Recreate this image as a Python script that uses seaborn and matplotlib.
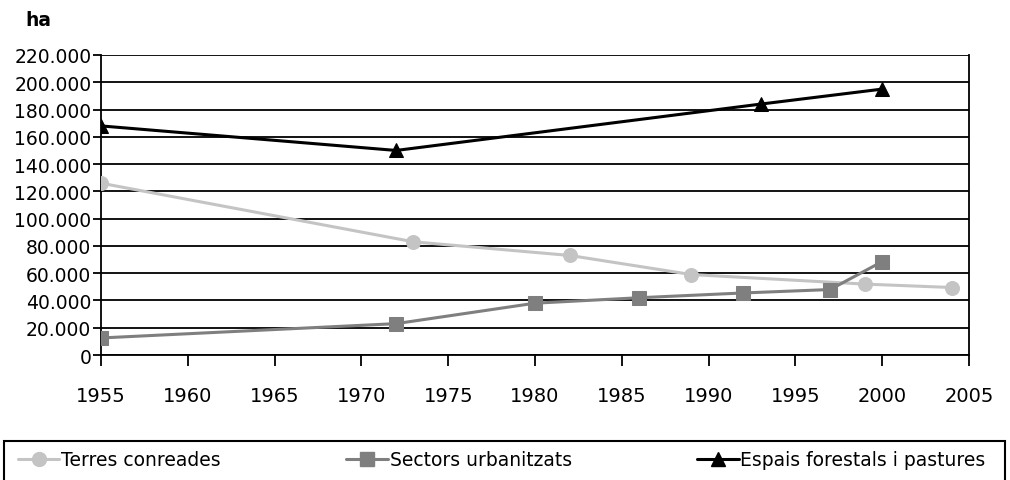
import matplotlib
matplotlib.use("Agg")
import matplotlib.pyplot as plt
import seaborn as sns
import pandas as pd
from matplotlib.ticker import FuncFormatter
from matplotlib.lines import Line2D
from matplotlib.patches import Rectangle

sns.set_theme(style="white")
plt.rcParams['font.family'] = ['DejaVu Sans']
plt.rcParams['text.color'] = 'black'

terres_years = [1955, 1973, 1982, 1989, 1999, 2004]
terres_vals = [126000, 83000, 73000, 59000, 52000, 49500]
sectors_years = [1955, 1972, 1980, 1986, 1992, 1997, 2000]
sectors_vals = [12500, 23000, 38000, 42000, 45500, 48000, 68500]
espais_years = [1955, 1972, 1993, 2000]
espais_vals = [168000, 150000, 184000, 195000]
x_ticks = list(range(1955, 2006, 5))
y_ticks = list(range(0, 220001, 20000))
labels = ["Terres conreades", "Sectors urbanitzats", "Espais forestals i pastures"]
colors = ["#c4c4c4", "#7f7f7f", "#000000"]
markers = ["o", "s", "^"]

fig = plt.figure(figsize=(10.10, 4.81), dpi=100)
ax = fig.add_axes([0.1, 1 - 356/481, 0.8594, 300/481])

series = [(terres_years, terres_vals), (sectors_years, sectors_vals), (espais_years, espais_vals)]
for (xs, ys), lab, c, m in zip(series, labels, colors, markers):
    df = pd.DataFrame({"year": xs, "value": ys})
    sns.lineplot(data=df, x="year", y="value", ax=ax, color=c, marker=m,
                 markersize=10, markeredgecolor=c, linewidth=2.2, zorder=3,
                 label=lab, legend=False)

ax.set_xlim(1955, 2005)
ax.set_ylim(0, 220000)
ax.set_xticks(x_ticks)
ax.set_yticks(y_ticks)
ax.yaxis.set_major_formatter(FuncFormatter(lambda v, p: f"{int(v):,}".replace(",", ".")))
ax.grid(axis="y", color="black", linewidth=1.3)
ax.grid(axis="x", visible=False)
ax.set_axisbelow(True)
for s in ["left", "bottom", "right"]:
    ax.spines[s].set_visible(True)
    ax.spines[s].set_color("black")
    ax.spines[s].set_linewidth(1.3)
ax.spines["top"].set_visible(False)
ax.tick_params(axis="y", direction="out", length=6, width=1.3, pad=1,
               labelsize=13.5, colors="black", left=True)
ax.tick_params(axis="x", direction="out", length=8, width=1.3, pad=14,
               labelsize=14, colors="black", bottom=True)
ax.set_xlabel("")
ax.set_ylabel("")

fig.text(25/1010, 1 - 20/481, "ha", fontsize=13.5, fontweight="bold", va="center", ha="left")

# legend frame
fig.patches.append(Rectangle((4/1010, 1 - 500/481), 1001/1010, 58/481,
                             transform=fig.transFigure, facecolor="white",
                             edgecolor="black", linewidth=1.5, zorder=0))

handles = [Line2D([0], [0], color=c, marker=m, markersize=10, linewidth=2.2, markeredgecolor=c)
           for c, m in zip(colors, markers)]
leg = fig.legend(handles, labels, loc="center left", bbox_to_anchor=(18/1010, 1 - 461/481),
                 ncol=3, frameon=False, fontsize=13.5, handlelength=2.2, handletextpad=0.1,
                 columnspacing=6.7, borderpad=0, borderaxespad=0)

fig.savefig("out.png", dpi=100)
